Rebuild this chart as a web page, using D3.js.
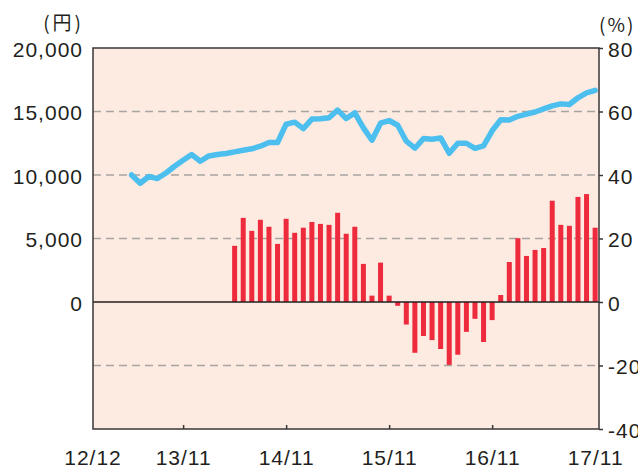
<!DOCTYPE html>
<html><head><meta charset="utf-8">
<script src="https://cdn.jsdelivr.net/npm/d3@7/dist/d3.min.js"></script>
<style>body{margin:0;background:#fff}svg{display:block}</style>
</head><body>
<svg id="c" width="638" height="466"></svg>
<script>
// month index: 0 = 2012/12
const priceStart = 5;   // 2013/05
const priceValues = [10000,9350,9880,9720,10160,10690,11160,11610,11080,11500,11610,11690,11820,11950,12060,12270,12560,12560,
  14000,14160,13650,14400,14430,14510,15110,14450,14890,13710,12740,14080,14290,13920,12660,12110,12870,12820,12920,11710,
  12500,12500,12100,12290,13480,14350,14330,14620,14800,14960,15200,15440,15600,15550,16080,16470,16660];
const yoyStart = 17;    // 2014/05
const yoyValues = [17.7,26.5,22.4,25.9,23.7,18.3,26.2,21.8,23.4,25.2,24.6,24.3,28.1,21.5,23.7,12.0,2.0,12.4,2.0,
  -1.2,-7.1,-16.0,-10.7,-12.0,-14.8,-19.8,-16.6,-9.4,-5.3,-12.6,-5.7,2.2,12.6,20.1,14.5,16.4,17.0,31.9,24.3,24.0,33.1,34.0,23.4];
const xTickMonths = [11,23,35,47,59];
const xTickLabels = ["13/11","14/11","15/11","16/11","17/11"];
const xStartLabel = "12/12";
const leftTicks = [0,5000,10000,15000,20000];
const rightTicks = [80,60,40,20,0,-20,-40];
const gridTicks = [15000,10000,5000,-5000];

const L=93,R=599,T=48,B=429;
const svg=d3.select("#c");
const x=d3.scaleLinear().domain([0.5,59.45]).range([L,R]);
const yL=d3.scaleLinear().domain([-10000,20000]).range([B,T]);
const yR=d3.scaleLinear().domain([-40,80]).range([B,T]);
const font="'Liberation Sans', Arial, sans-serif";
const fs=21, ls=1;
const txt="#231f20";

svg.append("rect").attr("x",L).attr("y",T).attr("width",R-L).attr("height",B-T).attr("fill","#fdebe2");

svg.append("g").selectAll("line").data(gridTicks).join("line")
  .attr("x1",L).attr("x2",R).attr("y1",d=>yL(d)).attr("y2",d=>yL(d))
  .attr("stroke","#a8a4a2").attr("stroke-width",1.3).attr("stroke-dasharray","8,5");

const bw=5;
svg.append("g").selectAll("rect").data(yoyValues).join("rect")
  .attr("x",(d,i)=>x(yoyStart+i)-bw/2).attr("width",bw)
  .attr("y",d=>yR(Math.max(0,d))).attr("height",d=>Math.abs(yR(d)-yR(0)))
  .attr("fill","#ee2a3d");

svg.append("line").attr("x1",L).attr("x2",R).attr("y1",yL(0)).attr("y2",yL(0))
  .attr("stroke","#231f20").attr("stroke-width",1.5);

svg.append("path").datum(priceValues)
  .attr("d",d3.line().x((d,i)=>x(priceStart+i)).y(d=>yL(d)))
  .attr("fill","none").attr("stroke","#4cbfee").attr("stroke-width",5.5)
  .attr("stroke-linejoin","round").attr("stroke-linecap","round");

// frame
svg.append("rect").attr("x",L).attr("y",T).attr("width",R-L).attr("height",B-T)
  .attr("fill","none").attr("stroke","#3a3636").attr("stroke-width",1.5);

// left axis
const la=svg.append("g").attr("transform",`translate(${L},0)`)
  .call(d3.axisLeft(yL).tickValues(leftTicks).tickSize(0).tickPadding(10).tickFormat(d3.format(",")));
la.select(".domain").remove();
la.selectAll("text").attr("font-family",font).attr("font-size",fs).attr("letter-spacing",ls).attr("fill",txt).attr("dy","0.4em");

// right axis
const ra=svg.append("g").attr("transform",`translate(${R},0)`)
  .call(d3.axisRight(yR).tickValues(rightTicks).tickSize(4).tickPadding(5).tickFormat(d=>String(d)));
ra.select(".domain").remove();
ra.selectAll("line").attr("stroke","#3a3636").attr("stroke-width",1.5);
ra.selectAll("text").attr("font-family",font).attr("font-size",fs).attr("letter-spacing",ls).attr("fill",txt).attr("dy","0.4em");

// bottom axis (ticks inward)
const ba=svg.append("g").attr("transform",`translate(0,${B})`)
  .call(d3.axisBottom(x).tickValues(xTickMonths).tickSize(-4).tickPadding(0).tickFormat((d,i)=>xTickLabels[i]));
ba.select(".domain").remove();
ba.selectAll("line").attr("stroke","#3a3636").attr("stroke-width",1.5)
  .attr("opacity",d=>x(d)>R-6?0:1);
ba.selectAll("text").attr("font-family",font).attr("font-size",fs).attr("letter-spacing",ls).attr("fill",txt).attr("y",36).attr("dy",0);
svg.append("text").attr("x",x(x.domain()[0])).attr("y",B+36)
  .attr("text-anchor","middle").attr("font-family",font).attr("font-size",fs).attr("letter-spacing",ls).attr("fill",txt).text(xStartLabel);

// units
svg.append("text").attr("x",84).attr("y",30).attr("text-anchor","end")
  .attr("font-family","'Noto Sans CJK JP', sans-serif").attr("font-size",19).attr("letter-spacing",3).attr("fill",txt).text("(円)");
svg.append("text").attr("x",599).attr("y",32).attr("text-anchor","start")
  .attr("font-family","'Noto Sans CJK JP', sans-serif").attr("font-size",19).attr("letter-spacing",2).attr("fill",txt).text("(%)");
</script>
</body></html>
